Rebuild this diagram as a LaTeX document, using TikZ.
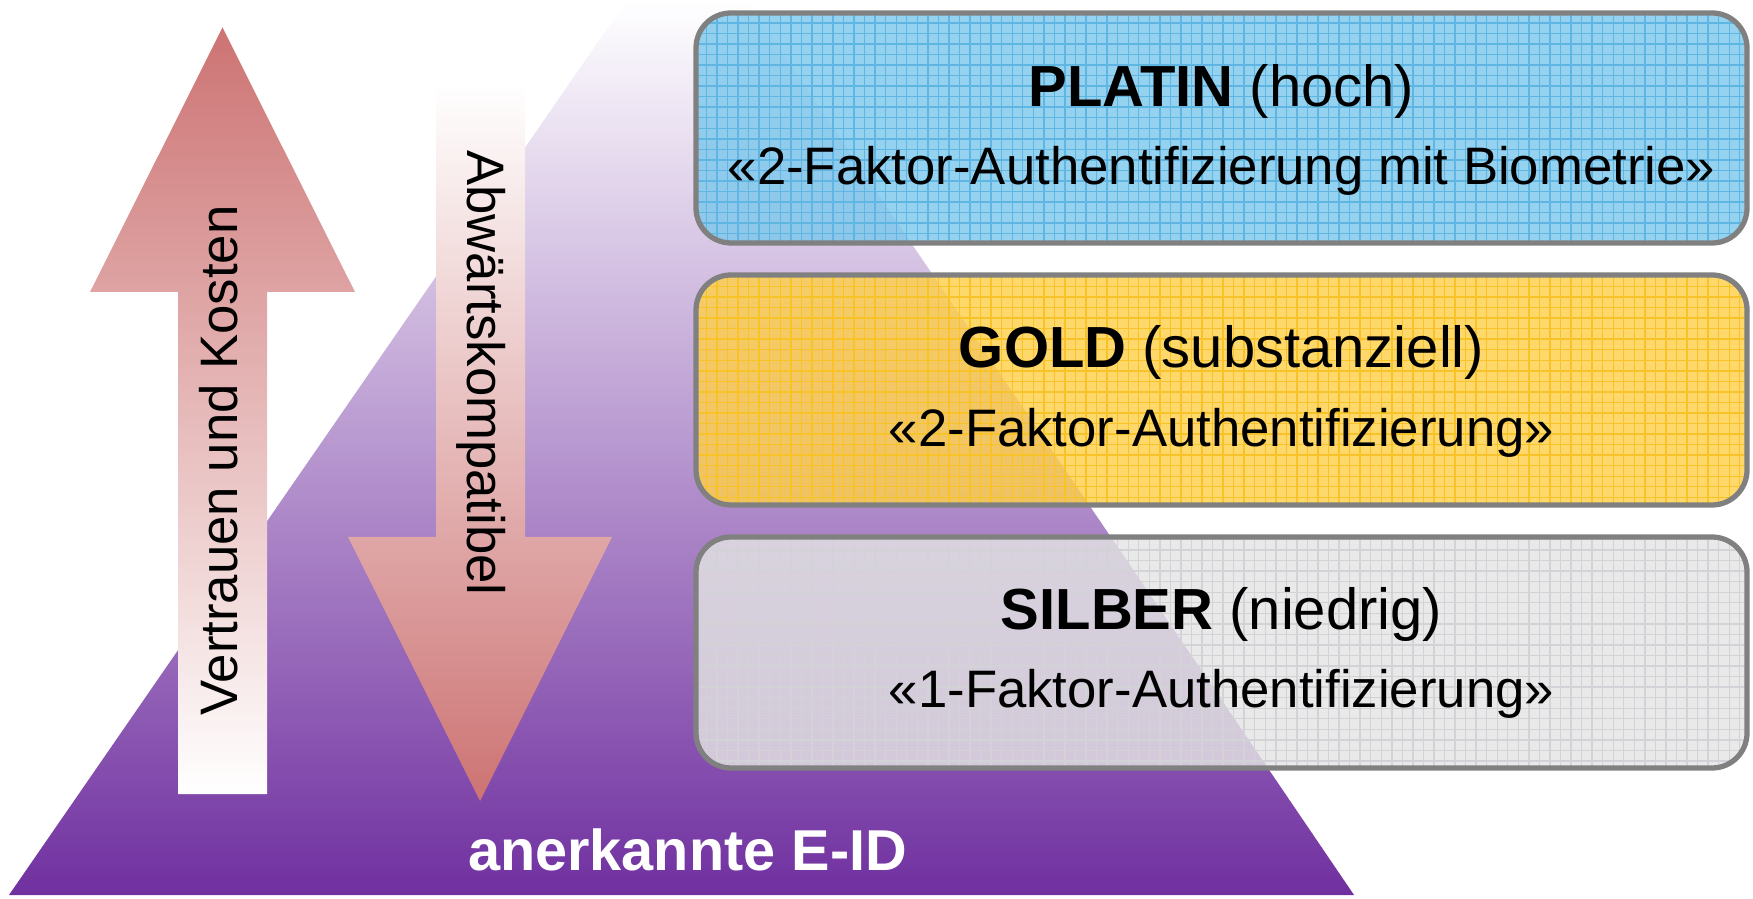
\documentclass[tikz,border=0pt]{standalone}
\usepackage{fontspec}
\setmainfont{Liberation Sans}
\usepackage{tikz}
\usetikzlibrary{patterns}

\definecolor{eidpurple}{RGB}{112,48,160}
\definecolor{eidlilac}{RGB}{194,182,214}
\definecolor{arrowred}{RGB}{205,115,115}
\definecolor{platinblue}{RGB}{125,200,236}
\definecolor{platingrid}{RGB}{60,160,215}
\definecolor{goldyellow}{RGB}{255,208,75}
\definecolor{goldgrid}{RGB}{240,180,0}
\definecolor{silbergrey}{RGB}{228,228,228}
\definecolor{silbergrid}{RGB}{190,190,198}
\definecolor{boxframe}{RGB}{128,128,128}

\tikzset{
	levelbox/.style 2 args={rounded corners=0.35cm, fill=#1, fill opacity=0.82,
		postaction={pattern=grid, pattern color=#2!45!#1},
		postaction={draw=boxframe, line width=1.5pt}},
	leveltitle/.style={font=\fontsize{16.5}{20}\selectfont, anchor=base},
	levelsub/.style={font=\fontsize{15}{18}\selectfont, anchor=base},
	arrowtext/.style={font=\fontsize{15}{18}\selectfont, anchor=base}
}

\begin{document}
\begin{tikzpicture}
		%%%%% START %%%%%
		\useasboundingbox (0, 0) rectangle (17.53, 8.98);
		
		\begin{scope}
			\clip (0.09, 0.03) -- (13.54, 0.03) -- (6.87, 9.85) -- cycle;
			\shade[top color=white, middle color=eidlilac, bottom color=eidpurple] (0, 0.03) rectangle (17.53, 8.98);
		\end{scope}
		
		\shade[top color=arrowred, bottom color=white] (2.225, 8.705) -- (3.55, 6.06) -- (2.67, 6.06) -- (2.67, 1.04) -- (1.78, 1.04) -- (1.78, 6.06) -- (0.90, 6.06) -- cycle;
		\node[arrowtext, rotate=90] (vertrauen) at (2.37, 4.375) {Vertrauen und Kosten};
		
		\shade[top color=white, bottom color=arrowred] (4.36, 8.15) -- (5.25, 8.15) -- (5.25, 3.61) -- (6.12, 3.61) -- (4.80, 0.97) -- (3.48, 3.61) -- (4.36, 3.61) -- cycle;
		\node[arrowtext, rotate=-90] (abwaerts) at (4.67, 5.25) {Abwärtskompatibel};
		
		\path[levelbox={platinblue}{platingrid}] (6.96, 6.55) rectangle (17.47, 8.85);
		\node[leveltitle] (platin) at (12.215, 7.91) {\textbf{PLATIN} (hoch)};
		\node[levelsub] (platinsub) at (12.215, 7.13) {«2-Faktor-Authentifizierung mit Biometrie»};
		
		\path[levelbox={goldyellow}{goldgrid}] (6.96, 3.93) rectangle (17.47, 6.23);
		\node[leveltitle] (gold) at (12.215, 5.30) {\textbf{GOLD} (substanziell)};
		\node[levelsub] (goldsub) at (12.215, 4.51) {«2-Faktor-Authentifizierung»};
		
		\path[levelbox={silbergrey}{silbergrid}] (6.96, 1.30) rectangle (17.47, 3.61);
		\node[leveltitle] (silber) at (12.215, 2.68) {\textbf{SILBER} (niedrig)};
		\node[levelsub] (silbersub) at (12.215, 1.90) {«1-Faktor-Authentifizierung»};
		
		\node[font=\fontsize{16.4}{20}\selectfont\bfseries, text=white, anchor=base] (eid) at (6.875, 0.28) {anerkannte E-ID};
		
		%%%%% END %%%%%
	\end{tikzpicture}
\end{document}
